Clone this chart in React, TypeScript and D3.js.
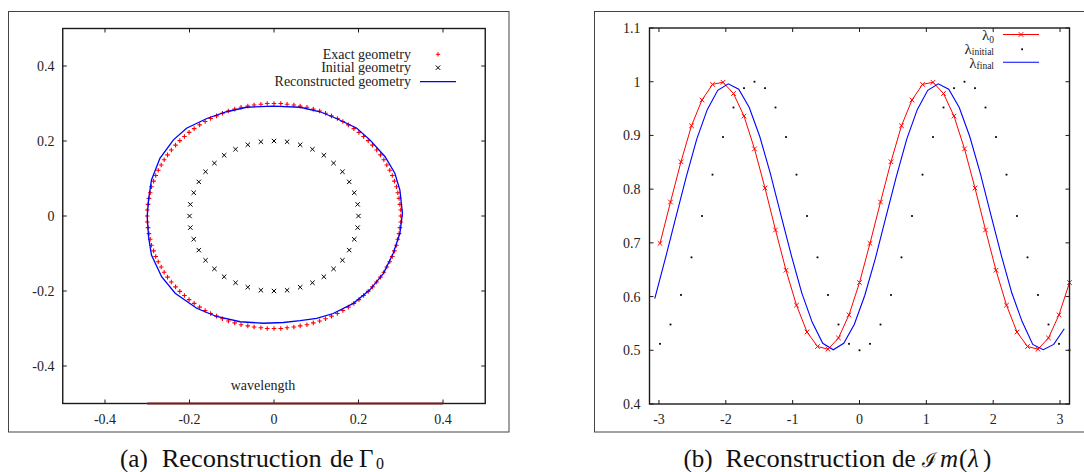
import React from 'react';
import * as d3 from 'd3';

// ---------- Panel (a): geometry ----------
const exactX = [
  0.3, 0.3, 0.298, 0.296, 0.293, 0.29, 0.285, 0.28, 0.274, 0.267, 0.26, 0.252, 0.243, 0.233, 0.223, 0.212, 0.201, 0.189, 0.176, 0.163, 0.15, 0.136, 0.122, 0.108, 0.093, 0.078, 0.062, 0.047, 0.031, 0.016,
  0, -0.016, -0.031, -0.047, -0.062, -0.078, -0.093, -0.108, -0.122, -0.136, -0.15, -0.163, -0.176, -0.189, -0.201, -0.212, -0.223, -0.233, -0.243, -0.252, -0.26, -0.267, -0.274, -0.28, -0.285, -0.29, -0.293, -0.296, -0.298, -0.3,
  -0.3, -0.3, -0.298, -0.296, -0.293, -0.29, -0.285, -0.28, -0.274, -0.267, -0.26, -0.252, -0.243, -0.233, -0.223, -0.212, -0.201, -0.189, -0.176, -0.163, -0.15, -0.136, -0.122, -0.108, -0.093, -0.078, -0.062, -0.047, -0.031, -0.016,
  0, 0.016, 0.031, 0.047, 0.062, 0.078, 0.093, 0.108, 0.122, 0.136, 0.15, 0.163, 0.176, 0.189, 0.201, 0.212, 0.223, 0.233, 0.243, 0.252, 0.26, 0.267, 0.274, 0.28, 0.285, 0.29, 0.293, 0.296, 0.298, 0.3,
];
const exactY = [
  0, 0.016, 0.031, 0.047, 0.062, 0.078, 0.093, 0.108, 0.122, 0.136, 0.15, 0.163, 0.176, 0.189, 0.201, 0.212, 0.223, 0.233, 0.243, 0.252, 0.26, 0.267, 0.274, 0.28, 0.285, 0.29, 0.293, 0.296, 0.298, 0.3,
  0.3, 0.3, 0.298, 0.296, 0.293, 0.29, 0.285, 0.28, 0.274, 0.267, 0.26, 0.252, 0.243, 0.233, 0.223, 0.212, 0.201, 0.189, 0.176, 0.163, 0.15, 0.136, 0.122, 0.108, 0.093, 0.078, 0.062, 0.047, 0.031, 0.016,
  0, -0.016, -0.031, -0.047, -0.062, -0.078, -0.093, -0.108, -0.122, -0.136, -0.15, -0.163, -0.176, -0.189, -0.201, -0.212, -0.223, -0.233, -0.243, -0.252, -0.26, -0.267, -0.274, -0.28, -0.285, -0.29, -0.293, -0.296, -0.298, -0.3,
  -0.3, -0.3, -0.298, -0.296, -0.293, -0.29, -0.285, -0.28, -0.274, -0.267, -0.26, -0.252, -0.243, -0.233, -0.223, -0.212, -0.201, -0.189, -0.176, -0.163, -0.15, -0.136, -0.122, -0.108, -0.093, -0.078, -0.062, -0.047, -0.031, -0.016,
];
const initialX = [
  0.2, 0.198, 0.19, 0.178, 0.162, 0.141, 0.118, 0.091, 0.062, 0.031,
  0, -0.031, -0.062, -0.091, -0.118, -0.141, -0.162, -0.178, -0.19, -0.198,
  -0.2, -0.198, -0.19, -0.178, -0.162, -0.141, -0.118, -0.091, -0.062, -0.031,
  0, 0.031, 0.062, 0.091, 0.118, 0.141, 0.162, 0.178, 0.19, 0.198,
];
const initialY = [
  0, 0.031, 0.062, 0.091, 0.118, 0.141, 0.162, 0.178, 0.19, 0.198,
  0.2, 0.198, 0.19, 0.178, 0.162, 0.141, 0.118, 0.091, 0.062, 0.031,
  0, -0.031, -0.062, -0.091, -0.118, -0.141, -0.162, -0.178, -0.19, -0.198,
  -0.2, -0.198, -0.19, -0.178, -0.162, -0.141, -0.118, -0.091, -0.062, -0.031,
];
const reconX = [0.304, 0.298, 0.286, 0.263, 0.227, 0.196, 0.148, 0.109, 0.062, -0.002, -0.065, -0.112, -0.159, -0.207, -0.238, -0.27, -0.29, -0.297, -0.3, -0.297, -0.29, -0.266, -0.234, -0.183, -0.136, -0.08, -0.025, 0.022, 0.062, 0.101, 0.14, 0.188, 0.227, 0.259, 0.282, 0.298];
const reconY = [0.007, 0.069, 0.114, 0.158, 0.203, 0.234, 0.26, 0.278, 0.29, 0.293, 0.29, 0.278, 0.26, 0.234, 0.203, 0.154, 0.096, 0.043, -0.002, -0.055, -0.104, -0.162, -0.206, -0.246, -0.268, -0.282, -0.286, -0.284, -0.279, -0.273, -0.26, -0.233, -0.197, -0.153, -0.1, -0.046];
const wavelengthRange = [-0.3, 0.4];
const geomTicks = [-0.4, -0.2, 0, 0.2, 0.4];
const geomTickLabels = ['-0.4', '-0.2', '0', '0.2', '0.4'];

// ---------- Panel (b): Im(lambda) ----------
const thetaGrid = [
  -2.9845, -2.8274, -2.6704, -2.5133, -2.3562, -2.1991, -2.042, -1.885, -1.7279, -1.5708,
  -1.4137, -1.2566, -1.0996, -0.9425, -0.7854, -0.6283, -0.4712, -0.3142, -0.1571, 0,
  0.1571, 0.3142, 0.4712, 0.6283, 0.7854, 0.9425, 1.0996, 1.2566, 1.4137, 1.5708,
  1.7279, 1.885, 2.042, 2.1991, 2.3562, 2.5133, 2.6704, 2.8274, 2.9845, 3.1416,
];
const lambda0 = [
  0.699, 0.776, 0.851, 0.918, 0.966, 0.995, 0.999, 0.978, 0.936, 0.875,
  0.802, 0.724, 0.649, 0.584, 0.534, 0.507, 0.502, 0.523, 0.566, 0.626,
  0.699, 0.776, 0.851, 0.918, 0.966, 0.995, 0.999, 0.978, 0.936, 0.875,
  0.802, 0.724, 0.649, 0.584, 0.534, 0.507, 0.502, 0.523, 0.566, 0.626,
];
const lambdaInitial = [
  0.512, 0.548, 0.603, 0.673, 0.75, 0.827, 0.897, 0.952, 0.988, 1.0,
  0.988, 0.952, 0.897, 0.827, 0.75, 0.673, 0.603, 0.548, 0.512, 0.5,
  0.512, 0.548, 0.603, 0.673, 0.75, 0.827, 0.897, 0.952, 0.988, 1.0,
  0.988, 0.952, 0.897, 0.827, 0.75, 0.673, 0.603, 0.548, 0.512, 0.5,
];
const finalGrid = [
  -3.0631, -2.906, -2.7489, -2.5918, -2.4347, -2.2777, -2.1206, -1.9635, -1.8064, -1.6493,
  -1.4923, -1.3352, -1.1781, -1.021, -0.8639, -0.7069, -0.5498, -0.3927, -0.2356, -0.0785,
  0.0785, 0.2356, 0.3927, 0.5498, 0.7069, 0.8639, 1.021, 1.1781, 1.3352, 1.4923,
  1.6493, 1.8064, 1.9635, 2.1206, 2.2777, 2.4347, 2.5918, 2.7489, 2.906, 3.0631,
];
const lambdaFinal = [
  0.596, 0.67, 0.747, 0.823, 0.893, 0.948, 0.984, 0.996, 0.986, 0.952,
  0.898, 0.83, 0.753, 0.677, 0.607, 0.552, 0.513, 0.501, 0.513, 0.548,
  0.602, 0.67, 0.747, 0.823, 0.893, 0.948, 0.984, 0.996, 0.986, 0.952,
  0.898, 0.83, 0.753, 0.677, 0.607, 0.553, 0.511, 0.501, 0.511, 0.54,
];
const thetaTicks = [-3, -2, -1, 0, 1, 2, 3];
const thetaTickLabels = ['-3', '-2', '-1', '0', '1', '2', '3'];
const lambdaTicks = [0.4, 0.5, 0.6, 0.7, 0.8, 0.9, 1, 1.1];
const lambdaTickLabels = ['0.4', '0.5', '0.6', '0.7', '0.8', '0.9', '1', '1.1'];

const SERIF = { fontFamily: "'Liberation Serif'" };
const TXT = '#222';

export default function App() {
  const ax = d3.scaleLinear().domain([-0.5, 0.5]).range([62.75, 485.25]);
  const ay = d3.scaleLinear().domain([-0.5, 0.5]).range([403.5, 28.5]);
  const bx = d3.scaleLinear().domain([-Math.PI, Math.PI]).range([649.5, 1069.5]);
  const by = d3.scaleLinear().domain([0.4, 1.1]).range([404, 28]);

  const reconPts: [number, number][] = reconX.map((x, i) => [x, reconY[i]]);
  const reconPath = d3.line<[number, number]>().x(d => ax(d[0])).y(d => ay(d[1])).curve(d3.curveLinearClosed)(reconPts) || '';

  const l0Pts: [number, number][] = thetaGrid.map((t, i) => [t, lambda0[i]]);
  const lfPts: [number, number][] = finalGrid.map((t, i) => [t, lambdaFinal[i]]);
  const lineB = d3.line<[number, number]>().x(d => bx(d[0])).y(d => by(d[1]));

  const plus = (s: number) => `M${-s},0H${s}M0,${-s}V${s}`;
  const cross = (s: number) => `M${-s},${-s}L${s},${s}M${-s},${s}L${s},${-s}`;

  const tickLen = 4;
  const frameStroke = '#1a1a1a';

  return (
    <svg width={1084} height={472} style={{ position: 'absolute', left: 0, top: 0, background: '#fff' }}>
      <rect x={0} y={0} width={1084} height={472} fill="#fff" />
      <rect x={8.5} y={11.5} width={500.5} height={420.5} fill="none" stroke="#444" strokeWidth={1} />
      <rect x={594.5} y={11.5} width={520} height={420.5} fill="none" stroke="#444" strokeWidth={1} />

      {/* ===== Panel (a) ===== */}
      <g>
        {geomTicks.map((t, i) => (
          <g key={'at' + i} stroke={frameStroke} strokeWidth={1}>
            <line x1={ax(t)} x2={ax(t)} y1={ay(-0.5)} y2={ay(-0.5) - tickLen} />
            <line x1={ax(t)} x2={ax(t)} y1={ay(0.5)} y2={ay(0.5) + tickLen} />
            <line x1={ax(-0.5)} x2={ax(-0.5) + tickLen} y1={ay(t)} y2={ay(t)} />
            <line x1={ax(0.5)} x2={ax(0.5) - tickLen} y1={ay(t)} y2={ay(t)} />
          </g>
        ))}
        {geomTicks.map((t, i) => (
          <text key={'axl' + i} style={SERIF} x={ax(t)} y={423.5} textAnchor="middle" fontSize={14} fill={TXT}>{geomTickLabels[i]}</text>
        ))}
        {geomTicks.map((t, i) => (
          <text key={'ayl' + i} style={SERIF} x={54.5} y={ay(t) + 5} textAnchor="end" fontSize={14} fill={TXT}>{geomTickLabels[i]}</text>
        ))}

        {exactX.map((x, i) => (
          <path key={'ex' + i} d={plus(2.3)} transform={`translate(${ax(x)},${ay(exactY[i])})`} stroke="#ff0000" strokeWidth={1.1} fill="none" />
        ))}
        {initialX.map((x, i) => (
          <path key={'in' + i} d={cross(2.2)} transform={`translate(${ax(x)},${ay(initialY[i])})`} stroke="#000" strokeWidth={1} fill="none" />
        ))}
        <path d={reconPath} fill="none" stroke="#0000ff" strokeWidth={1.3} />

        <text style={SERIF} x={263} y={390} textAnchor="middle" fontSize={14} fill={TXT}>wavelength</text>

        <text style={SERIF} x={411} y={58.5} textAnchor="end" fontSize={14} fill={TXT}>Exact geometry</text>
        <path d={plus(2.2)} transform="translate(438,54.3)" stroke="#ff0000" strokeWidth={1} fill="none" />
        <text style={SERIF} x={411} y={72} textAnchor="end" fontSize={14} fill={TXT}>Initial geometry</text>
        <path d={cross(2.2)} transform="translate(438,67.7)" stroke="#000" strokeWidth={1} fill="none" />
        <text style={SERIF} x={411} y={86} textAnchor="end" fontSize={14} fill={TXT}>Reconstructed geometry</text>
        <line x1={420} x2={456} y1={81.7} y2={81.7} stroke="#0000ff" strokeWidth={1.3} />

        <rect x={ax(-0.5)} y={ay(0.5)} width={ax(0.5) - ax(-0.5)} height={ay(-0.5) - ay(0.5)} fill="none" stroke={frameStroke} strokeWidth={1.4} />
        <line x1={ax(wavelengthRange[0])} x2={ax(wavelengthRange[1])} y1={ay(-0.5)} y2={ay(-0.5)} stroke="#7a1c1c" strokeWidth={1.8} />
      </g>

      {/* ===== Panel (b) ===== */}
      <g>
        {thetaTicks.map((t, i) => (
          <g key={'bt' + i} stroke={frameStroke} strokeWidth={1}>
            <line x1={bx(t)} x2={bx(t)} y1={by(0.4)} y2={by(0.4) - tickLen} />
            <line x1={bx(t)} x2={bx(t)} y1={by(1.1)} y2={by(1.1) + tickLen} />
          </g>
        ))}
        {lambdaTicks.map((t, i) => (
          <g key={'bl' + i} stroke={frameStroke} strokeWidth={1}>
            <line x1={bx(-Math.PI)} x2={bx(-Math.PI) + tickLen} y1={by(t)} y2={by(t)} />
            <line x1={bx(Math.PI)} x2={bx(Math.PI) - tickLen} y1={by(t)} y2={by(t)} />
          </g>
        ))}
        {thetaTicks.map((t, i) => (
          <text key={'bxl' + i} style={SERIF} x={bx(t)} y={423.5} textAnchor="middle" fontSize={14} fill={TXT}>{thetaTickLabels[i]}</text>
        ))}
        {lambdaTicks.map((t, i) => (
          <text key={'byl' + i} style={SERIF} x={640.5} y={by(t) + 5} textAnchor="end" fontSize={14} fill={TXT}>{lambdaTickLabels[i]}</text>
        ))}

        <path d={lineB(l0Pts) || ''} fill="none" stroke="#ff0000" strokeWidth={1} />
        {l0Pts.map((p, i) => (
          <path key={'l0' + i} d={cross(2.3)} transform={`translate(${bx(p[0])},${by(p[1])})`} stroke="#ff0000" strokeWidth={1} fill="none" />
        ))}
        {thetaGrid.map((t, i) => (
          <rect key={'li' + i} x={bx(t) - 0.9} y={by(lambdaInitial[i]) - 0.9} width={1.8} height={1.8} fill="#000" />
        ))}
        <path d={lineB(lfPts) || ''} fill="none" stroke="#0000ff" strokeWidth={1.1} />

        <text style={SERIF} x={994} y={40} textAnchor="end" fontSize={15} fill={TXT}>λ<tspan fontSize={9.5} dy={2.5}>0</tspan></text>
        <line x1={1003} x2={1039} y1={34.5} y2={34.5} stroke="#ff0000" strokeWidth={1} />
        <path d={cross(2.3)} transform="translate(1021,34.5)" stroke="#ff0000" strokeWidth={1} fill="none" />
        <text style={SERIF} x={994} y={53.5} textAnchor="end" fontSize={15} fill={TXT}>λ<tspan fontSize={9.5} dy={1}>initial</tspan></text>
        <rect x={1021.2} y={48.4} width={1.8} height={1.8} fill="#000" />
        <text style={SERIF} x={994} y={68} textAnchor="end" fontSize={15} fill={TXT}>λ<tspan fontSize={9.5} dy={1}>final</tspan></text>
        <line x1={1003} x2={1039} y1={62.3} y2={62.3} stroke="#0000ff" strokeWidth={1.1} />

        <rect x={bx(-Math.PI)} y={by(1.1)} width={bx(Math.PI) - bx(-Math.PI)} height={by(0.4) - by(1.1)} fill="none" stroke={frameStroke} strokeWidth={1.4} />
      </g>

      {/* captions */}
      <g fontSize={25} fill="#111">
        <text style={SERIF} x={120} y={466.5}>(a)</text>
        <text style={SERIF} x={161.7} y={466.5} textLength={160} lengthAdjust="spacingAndGlyphs">Reconstruction</text>
        <text style={SERIF} x={330} y={466.5}>de</text>
        <text style={SERIF} x={359} y={466.5}>Γ</text>
        <text style={SERIF} x={376} y={469} fontSize={16}>0</text>

        <text style={SERIF} x={683.5} y={466.5}>(b)</text>
        <text style={SERIF} x={725.4} y={466.5} textLength={160} lengthAdjust="spacingAndGlyphs">Reconstruction</text>
        <text style={SERIF} x={892} y={466.5}>de</text>
        <text x={922} y={466.5} style={{ fontFamily: "'DejaVu Serif'" }} fontSize={20}>ℐ</text>
        <text style={SERIF} x={940} y={466.5} fontStyle="italic">m</text>
        <text style={SERIF} x={959} y={466.5}>(</text>
        <text style={SERIF} x={968} y={466.5} fontStyle="italic">λ</text>
        <text style={SERIF} x={983} y={466.5}>)</text>
      </g>
    </svg>
  );
}
